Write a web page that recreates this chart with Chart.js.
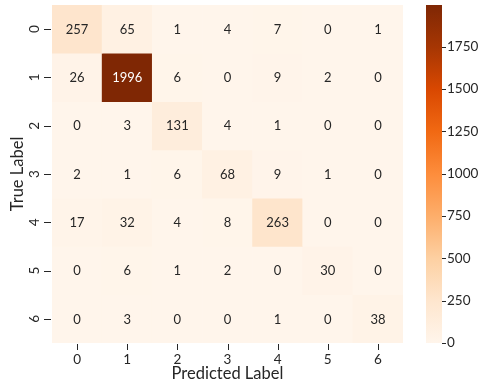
<!DOCTYPE html>
<html>
<head>
<meta charset="utf-8">
<script src="https://cdn.jsdelivr.net/npm/chart.js@4"></script>
<style>
  html, body { margin: 0; padding: 0; background: #fff; }
  #wrap { position: relative; width: 484px; height: 382px; }
  #heat { position: absolute; left: 0; top: 0; }
  #bar { position: absolute; left: 410px; top: 0; }
</style>
</head>
<body>
<div id="wrap">
  <canvas id="heat" width="420" height="382"></canvas>
  <canvas id="bar" width="74" height="382"></canvas>
</div>
<script>
const labels = ['0', '1', '2', '3', '4', '5', '6'];
const matrix = [
  [257, 65, 1, 4, 7, 0, 1],
  [26, 1996, 6, 0, 9, 2, 0],
  [0, 3, 131, 4, 1, 0, 0],
  [2, 1, 6, 68, 9, 1, 0],
  [17, 32, 4, 8, 263, 0, 0],
  [0, 6, 1, 2, 0, 30, 0],
  [0, 3, 0, 0, 1, 0, 38],
];
const colorTicks = [0, 250, 500, 750, 1000, 1250, 1500, 1750];

const FONT = 'Lato, "Open Sans", sans-serif';
const INK = '#262626';

// matplotlib "Oranges"
const oranges = ['#fff5eb', '#fee6ce', '#fdd0a2', '#fdae6b', '#fd8d3c', '#f16913', '#d94801', '#a63603', '#7f2704'];
const vmax = Math.max(...matrix.flat());

function hex(h) {
  return [1, 3, 5].map(i => parseInt(h.slice(i, i + 2), 16));
}
function colorFor(v) {
  let t = Math.min(Math.max(v / vmax, 0), 1) * (oranges.length - 1);
  let i = Math.min(Math.floor(t), oranges.length - 2);
  let f = t - i;
  let a = hex(oranges[i]), b = hex(oranges[i + 1]);
  let c = a.map((x, k) => Math.round(x + (b[k] - x) * f));
  return 'rgb(' + c.join(',') + ')';
}

// each true-label row is one dataset of floating bars spanning its row
const datasets = matrix.map((row, r) => ({
  label: 'row ' + r,
  data: row.map(() => [r - 0.5, r + 0.5]),
  values: row,
  backgroundColor: row.map(colorFor),
  borderWidth: 0,
  barPercentage: 1,
  categoryPercentage: 1,
  grouped: false,
}));

const annotate = {
  id: 'annotate',
  afterDatasetsDraw(chart) {
    const c = chart.ctx;
    c.save();
    c.font = '13px ' + FONT;
    c.textAlign = 'center';
    c.textBaseline = 'middle';
    chart.data.datasets.forEach((ds, i) => {
      chart.getDatasetMeta(i).data.forEach((el, j) => {
        const v = ds.values[j];
        c.fillStyle = v / vmax > 0.6 ? '#ffffff' : INK;
        const p = el.getCenterPoint();
        c.fillText(String(v), p.x, p.y + 0.5);
      });
    });
    c.restore();
  }
};

// short tick marks outside the plot, at each scale tick
const tickMarks = {
  id: 'tickMarks',
  afterDraw(chart) {
    const c = chart.ctx;
    c.save();
    c.strokeStyle = INK;
    c.lineWidth = 1;
    Object.values(chart.scales).forEach(s => {
      if (!s.options.display) return;
      s.ticks.forEach((t, i) => {
        const p = Math.round(s.getPixelForTick(i)) + 0.5;
        c.beginPath();
        if (s.isHorizontal()) {
          c.moveTo(p, s.top + 1);
          c.lineTo(p, s.top + 7);
        } else if (s.position === 'left') {
          c.moveTo(s.right - 8, p);
          c.lineTo(s.right - 1, p);
        } else {
          c.moveTo(s.left, p);
          c.lineTo(s.left + 4, p);
        }
        c.stroke();
      });
    });
    c.restore();
  }
};

const noGrid = { display: false, drawTicks: false, tickLength: 0 };

new Chart(document.getElementById('heat'), {
  type: 'bar',
  data: { labels: labels, datasets: datasets },
  options: {
    responsive: false,
    animation: false,
    layout: { padding: { top: 5, right: 17, left: 0, bottom: 0 } },
    plugins: { legend: { display: false }, tooltip: { enabled: false } },
    scales: {
      x: {
        type: 'category',
        offset: true,
        border: { display: false },
        grid: noGrid,
        ticks: { color: INK, font: { family: FONT, size: 13.5 }, padding: 9, maxRotation: 0 },
        title: { display: true, text: 'Predicted Label', color: INK, font: { family: FONT, size: 16.5, lineHeight: 1 }, padding: 0 },
        afterFit: s => { s.height = 39; s.paddingLeft = 0; s.paddingRight = 0; },
      },
      y: {
        type: 'linear',
        reverse: true,
        min: -0.5,
        max: 6.5,
        afterBuildTicks: s => { s.ticks = labels.map((l, i) => ({ value: i })); },
        border: { display: false },
        grid: noGrid,
        ticks: { color: INK, font: { family: FONT, size: 13.5 }, padding: 13, minRotation: 90, maxRotation: 90,
                 crossAlign: 'center', callback: v => labels[v] },
        title: { display: true, text: 'True Label', color: INK, font: { family: FONT, size: 16.5, lineHeight: 1 }, padding: { top: 9 } },
        afterFit: s => { s.width = 52; s.paddingTop = 0; s.paddingBottom = 0; },
      },
    },
  },
  plugins: [annotate, tickMarks],
});

// colorbar
new Chart(document.getElementById('bar'), {
  type: 'bar',
  data: {
    labels: [''],
    datasets: [{
      data: [[0, vmax]],
      borderWidth: 0,
      barPercentage: 1,
      categoryPercentage: 1,
      backgroundColor: ctx => {
        const area = ctx.chart.chartArea;
        if (!area) return oranges[0];
        const g = ctx.chart.ctx.createLinearGradient(0, area.bottom, 0, area.top);
        oranges.forEach((col, i) => g.addColorStop(i / (oranges.length - 1), col));
        return g;
      },
    }],
  },
  options: {
    responsive: false,
    animation: false,
    layout: { padding: { top: 5, left: 16, right: 0, bottom: 39 } },
    plugins: { legend: { display: false }, tooltip: { enabled: false } },
    scales: {
      x: { display: false },
      y: {
        position: 'right',
        min: 0,
        max: vmax,
        afterBuildTicks: s => { s.ticks = colorTicks.map(v => ({ value: v })); },
        border: { display: false },
        grid: noGrid,
        ticks: { color: INK, font: { family: FONT, size: 13.5 }, padding: 5, callback: v => String(v) },
        afterFit: s => { s.width = 42; s.paddingTop = 0; s.paddingBottom = 0; },
      },
    },
  },
  plugins: [tickMarks],
});
</script>
</body>
</html>
